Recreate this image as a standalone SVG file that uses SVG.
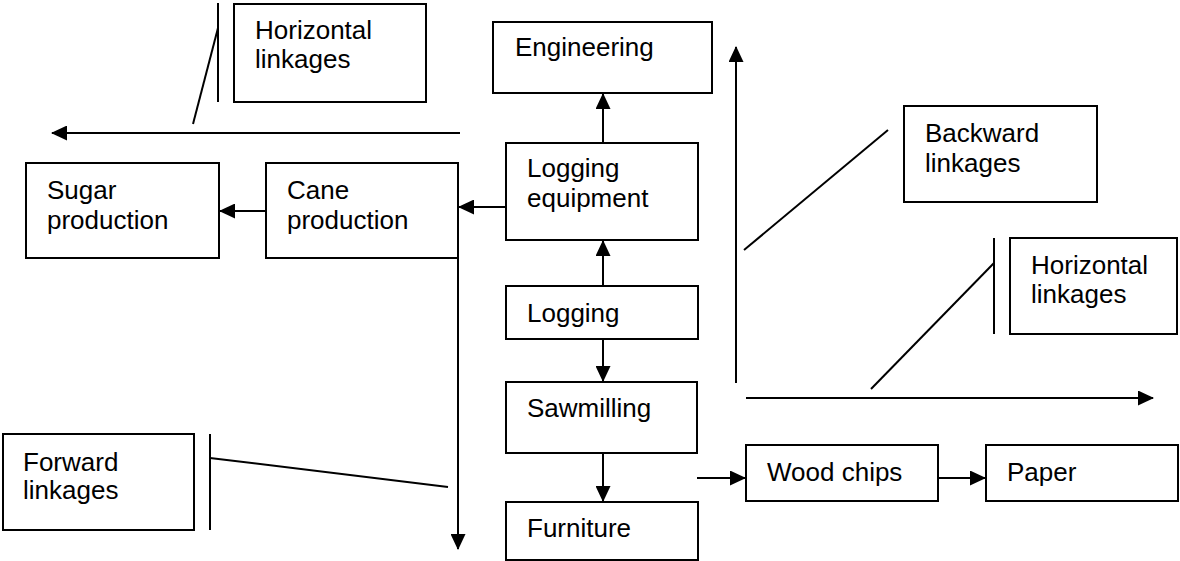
<svg xmlns="http://www.w3.org/2000/svg" width="1180" height="561" viewBox="0 0 1180 561">
<defs>
<style>
.box{fill:#fff;stroke:#000;stroke-width:2}
.ln{fill:none;stroke:#000;stroke-width:2}
.arr{fill:none;stroke:#000;stroke-width:2;marker-end:url(#ah)}
text{font-family:"Liberation Sans",Arial,sans-serif;font-size:26px;fill:#000}
</style>
<marker id="ah" viewBox="0 0 16 15" refX="15" refY="7.5" markerWidth="16" markerHeight="15" markerUnits="userSpaceOnUse" orient="auto">
<path d="M0,0 L16,7.5 L0,15 Z" fill="#000"/>
</marker>
</defs>
<rect width="1180" height="561" fill="#fff"/>
<g id="connectors">
<line class="arr" x1="603" y1="143" x2="603" y2="94"/>
<line class="arr" x1="506" y1="207" x2="459" y2="207"/>
<line class="arr" x1="266" y1="211" x2="220" y2="211"/>
<line class="arr" x1="603" y1="286" x2="603" y2="241"/>
<line class="arr" x1="603" y1="334" x2="603" y2="381"/>
<line class="arr" x1="603" y1="453" x2="603" y2="501"/>
<line class="arr" x1="697" y1="478" x2="745" y2="478"/>
<line class="arr" x1="938" y1="478" x2="985" y2="478"/>
<line class="arr" x1="460" y1="133" x2="52" y2="133"/>
<line class="arr" x1="458" y1="258" x2="458" y2="549"/>
<line class="arr" x1="736" y1="383" x2="736" y2="47"/>
<line class="arr" x1="746" y1="398" x2="1153" y2="398"/>
<line class="ln" x1="218" y1="3" x2="218" y2="102"/>
<line class="ln" x1="218" y1="28" x2="193" y2="124"/>
<line class="ln" x1="744" y1="250" x2="888" y2="130"/>
<line class="ln" x1="994" y1="238" x2="994" y2="334"/>
<line class="ln" x1="871" y1="389" x2="994" y2="263"/>
<line class="ln" x1="210" y1="434" x2="210" y2="530"/>
<line class="ln" x1="210" y1="458" x2="448" y2="487"/>
</g>
<g id="horizontal-linkages-top">
<rect class="box" x="234" y="4" width="192" height="98"/>
<text x="255" y="39">Horizontal</text>
<text x="255" y="68">linkages</text>
</g>
<g id="sugar-production">
<rect class="box" x="26" y="163" width="193" height="95"/>
<text x="47" y="199">Sugar</text>
<text x="47" y="229">production</text>
</g>
<g id="cane-production">
<rect class="box" x="266" y="163" width="192" height="95"/>
<text x="287" y="199">Cane</text>
<text x="287" y="229">production</text>
</g>
<g id="engineering">
<rect class="box" x="493" y="22" width="219" height="71"/>
<text x="515" y="56">Engineering</text>
</g>
<g id="logging-equipment">
<rect class="box" x="506" y="143" width="192" height="97"/>
<text x="527" y="177">Logging</text>
<text x="527" y="207">equipment</text>
</g>
<g id="logging">
<rect class="box" x="506" y="286" width="192" height="53"/>
<text x="527" y="322">Logging</text>
</g>
<g id="sawmilling">
<rect class="box" x="506" y="382" width="191" height="71"/>
<text x="527" y="417">Sawmilling</text>
</g>
<g id="furniture">
<rect class="box" x="506" y="502" width="192" height="58"/>
<text x="527" y="537">Furniture</text>
</g>
<g id="wood-chips">
<rect class="box" x="746" y="445" width="192" height="56"/>
<text x="767" y="481">Wood chips</text>
</g>
<g id="paper">
<rect class="box" x="986" y="445" width="192" height="56"/>
<text x="1007" y="481">Paper</text>
</g>
<g id="backward-linkages">
<rect class="box" x="904" y="106" width="193" height="96"/>
<text x="925" y="142">Backward</text>
<text x="925" y="172">linkages</text>
</g>
<g id="horizontal-linkages-right">
<rect class="box" x="1010" y="238" width="167" height="96"/>
<text x="1031" y="274">Horizontal</text>
<text x="1031" y="303">linkages</text>
</g>
<g id="forward-linkages">
<rect class="box" x="3" y="434" width="191" height="96"/>
<text x="23" y="471">Forward</text>
<text x="23" y="499">linkages</text>
</g>
</svg>
